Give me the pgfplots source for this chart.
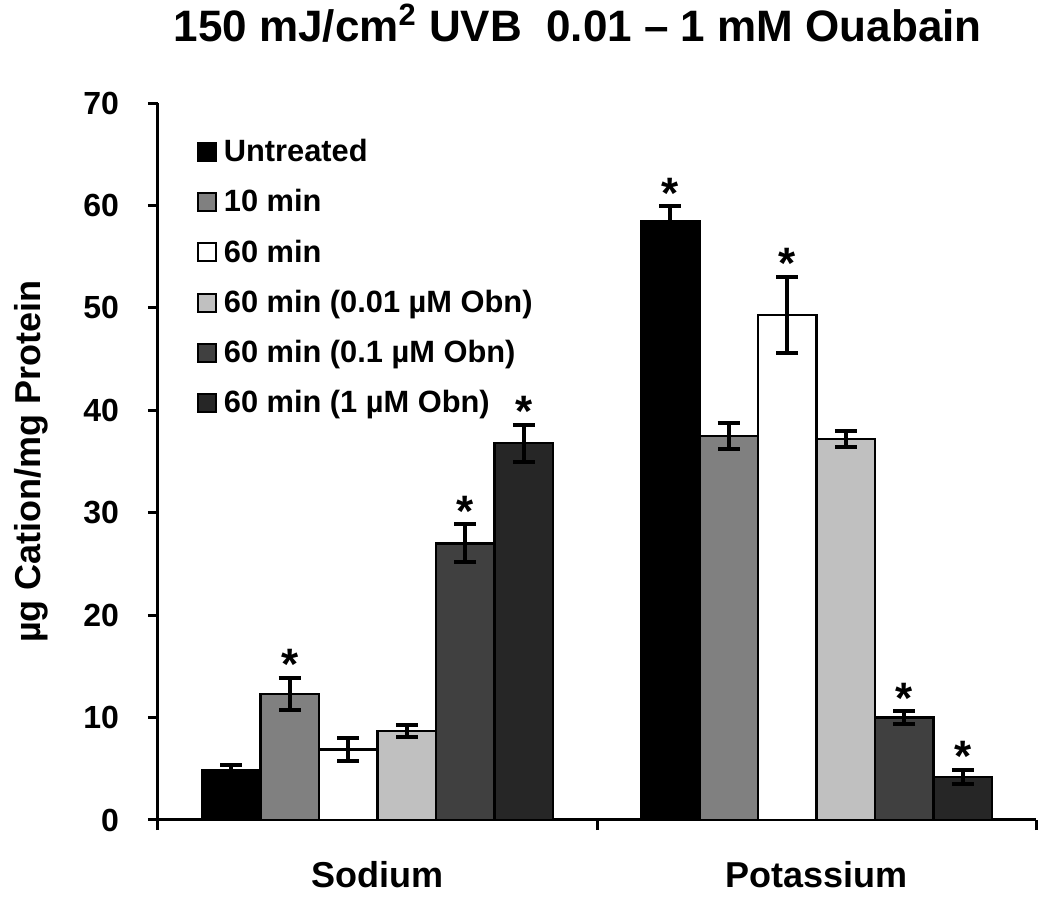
\documentclass[border=0pt]{standalone}
\usepackage{pgfplots}
\pgfplotsset{compat=1.18}
\usepackage{fontspec}
\setmainfont{Liberation Sans}
\definecolor{cUnt}{HTML}{000000}
\definecolor{cTen}{HTML}{808080}
\definecolor{cSix}{HTML}{FFFFFF}
\definecolor{cA}{HTML}{C0C0C0}
\definecolor{cB}{HTML}{404040}
\definecolor{cC}{HTML}{262626}
\pgfplotsset{
  sq legend/.style={legend image code/.code={\draw[##1, line width=1pt] (0pt,-4.5pt) rectangle (9pt,4.5pt);}},
  mybar/.style={ybar, bar width=29.27pt, bar shift=0pt, draw=black, line width=1.3pt, sq legend,
    error bars/y dir=both, error bars/y explicit,
    error bars/error bar style={line width=2pt, black},
    error bars/error mark options={line width=2pt, black, mark size=5.5pt, rotate=90}},
  star/.style={draw=none, mark=none, forget plot, nodes near coords={*},
    nodes near coords style={font=\fontsize{22}{24}\selectfont\bfseries, anchor=base, inner sep=0pt, yshift=-1pt}},
}
\begin{document}
\begin{tikzpicture}
\useasboundingbox (-79pt,-45pt) rectangle (446pt,410pt);
\begin{axis}[
  at={(0pt,0pt)}, anchor=south west,
  scale only axis, width=439pt, height=358.5pt,
  xmin=-0.5, xmax=1.5, ymin=0, ymax=70,
  clip=false,
  axis lines=left, axis line style={line width=1.5pt, -},
  ytick={0,10,...,70},
  xtick={-0.5,0.5,1.5}, xticklabels={Sodium,Potassium,{}},
  xticklabel style={xshift=109.75pt, yshift=-12pt, font=\fontsize{18}{20}\selectfont\bfseries},
  tick align=outside, major tick length=5pt, tick style={line width=1.5pt, black},
  yticklabel style={font=\fontsize{16}{18}\selectfont\bfseries, xshift=-11pt},
  /pgf/number format/assume math mode=true,
  ylabel={µg Cation/mg Protein},
  every axis y label/.style={at={(axis description cs:-0.1446,0.5)}, rotate=90, anchor=center, font=\fontsize{18}{20}\selectfont\bfseries},
  title={150 mJ/cm\textsuperscript{2} UVB\ \ 0.01 \textendash\ 1 mM Ouabain},
  title style={at={(axis description cs:0.478,1)}, anchor=base, yshift=25pt, font=\fontsize{22}{26}\selectfont\bfseries},
  legend cell align=left,
  legend style={draw=none, fill=none, at={(axis description cs:0.037,0.96)}, anchor=north west,
    font=\fontsize{15.4}{18}\selectfont\bfseries, row sep=9.5pt, nodes={inner xsep=3.5pt, inner ysep=1.5pt}},
]
% each series is plotted at its own position within the Sodium (x=0) and Potassium (x=1) groups
\addplot[mybar, fill=cUnt] coordinates {(-0.3333,4.9) +- (0,0.45) (0.6667,58.5) +- (0,1.4)};
\addlegendentry{Untreated}
\addplot[mybar, fill=cTen] coordinates {(-0.2,12.3) +- (0,1.6) (0.8,37.5) +- (0,1.3)};
\addlegendentry{10 min}
\addplot[mybar, fill=cSix] coordinates {(-0.0667,6.9) +- (0,1.1) (0.9333,49.3) +- (0,3.75)};
\addlegendentry{60 min}
\addplot[mybar, fill=cA] coordinates {(0.0667,8.7) +- (0,0.55) (1.0667,37.2) +- (0,0.75)};
\addlegendentry{60 min (0.01 µM Obn)}
\addplot[mybar, fill=cB] coordinates {(0.2,27.0) +- (0,1.85) (1.2,10.0) +- (0,0.6)};
\addlegendentry{60 min (0.1 µM Obn)}
\addplot[mybar, fill=cC] coordinates {(0.3333,36.8) +- (0,1.8) (1.3333,4.2) +- (0,0.7)};
\addlegendentry{60 min (1 µM Obn)}
% significance asterisks at the top of the error bars
\addplot[star] coordinates {(-0.2,13.9) (0.2,28.85) (0.3333,38.6) (0.6667,59.9) (0.9333,53.05) (1.2,10.6) (1.3333,4.9)};
\end{axis}
\end{tikzpicture}
\end{document}
